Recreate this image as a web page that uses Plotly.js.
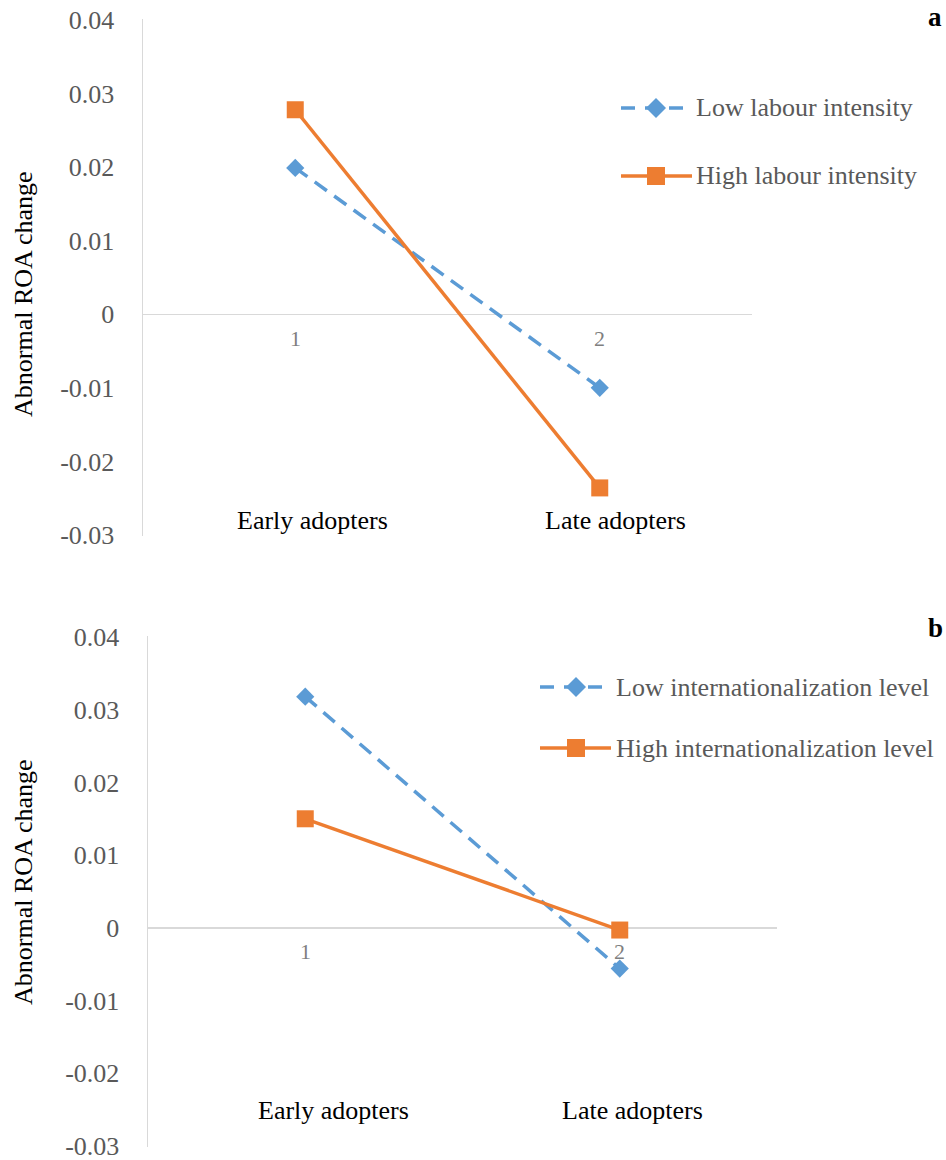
<!DOCTYPE html>
<html>
<head>
<meta charset="utf-8">
<script src="https://cdn.plot.ly/plotly-3.0.1.min.js"></script>
<style>
  html, body { margin: 0; padding: 0; background: #fff; }
  #chart { width: 946px; height: 1160px; }
</style>
</head>
<body>
<div id="chart"></div>
<script>
// ---------------- data ----------------
var categories = ['Early adopters', 'Late adopters'];
var categoryIndex = [1, 2];
var categoryTickLabels = ['1', '2'];

var yTickVals = [-0.03, -0.02, -0.01, 0, 0.01, 0.02, 0.03, 0.04];
var yTickText = ['-0.03', '-0.02', '-0.01', '0', '0.01', '0.02', '0.03', '0.04'];

var panelALabel = 'a';
var panelANames = ['Low labour intensity', 'High labour intensity'];
var panelALow = [0.0199, -0.0100];
var panelAHigh = [0.0278, -0.0236];

var panelBLabel = 'b';
var panelBNames = ['Low internationalization level', 'High internationalization level'];
var panelBLow = [0.0318, -0.0056];
var panelBHigh = [0.0150, -0.0003];

var yTitle = 'Abnormal ROA change';

// ---------------- styling ----------------
var W = 946, H = 1160;
var FONT = '"Liberation Serif", "Times New Roman", serif';
var BLUE = '#5B9BD5', ORANGE = '#ED7D31';
var GRAY = '#595959', AXIS = '#d9d9d9';
function px(x) { return x / W; }
function py(y) { return 1 - y / H; }

var blueLine = { color: BLUE, width: 3.5, dash: '15px,9px' };
var orangeLine = { color: ORANGE, width: 3.5 };
var diamond = { symbol: 'diamond', size: 14, color: BLUE };
var square = { symbol: 'square', size: 17, color: ORANGE };

var traces = [
  { x: categoryIndex, y: panelALow, name: panelANames[0], type: 'scatter', mode: 'lines+markers',
    xaxis: 'x', yaxis: 'y', line: blueLine, marker: diamond, showlegend: false },
  { x: categoryIndex, y: panelAHigh, name: panelANames[1], type: 'scatter', mode: 'lines+markers',
    xaxis: 'x', yaxis: 'y', line: orangeLine, marker: square, showlegend: false },
  { x: categoryIndex, y: panelBLow, name: panelBNames[0], type: 'scatter', mode: 'lines+markers',
    xaxis: 'x2', yaxis: 'y2', line: blueLine, marker: diamond, showlegend: false },
  { x: categoryIndex, y: panelBHigh, name: panelBNames[1], type: 'scatter', mode: 'lines+markers',
    xaxis: 'x2', yaxis: 'y2', line: orangeLine, marker: square, showlegend: false }
];

var PAD = 0.0002;
function yAxis(domain, anchor) {
  return {
    domain: domain, anchor: anchor, range: [-0.03 - PAD, 0.04 + PAD],
    tickmode: 'array', tickvals: yTickVals, ticktext: yTickText,
    ticks: '', ticklabelstandoff: 22, ticklabeloverflow: 'allow',
    tickfont: { family: FONT, size: 26, color: GRAY },
    showline: true, linecolor: AXIS, linewidth: 1.5,
    zeroline: true, zerolinecolor: AXIS, zerolinewidth: 1.5,
    showgrid: false, fixedrange: true
  };
}
function xAxis(domain, anchor) {
  return {
    domain: domain, anchor: anchor, range: [0.5, 2.5],
    showticklabels: false, showline: false, showgrid: false, zeroline: false, ticks: ''
  };
}
function yDomain(topPx, botPx) {
  var perUnit = (botPx - topPx) / 0.07;
  var ext = PAD * perUnit;
  return [py(botPx + ext), py(topPx - ext)];
}

var annotations = [];
var shapes = [];

function addPanel(xr, yr, names, catShift, catYShift, titleY, legend) {
  categoryIndex.forEach(function (c, i) {
    annotations.push({ xref: xr, yref: yr, x: c, y: 0, yshift: -24, text: categoryTickLabels[i],
      showarrow: false, xanchor: 'center', yanchor: 'middle',
      font: { family: FONT, size: 22, color: '#7f7f7f' } });
    annotations.push({ xref: xr, yref: yr, x: c, y: -0.03, xshift: catShift[i], yshift: catYShift,
      text: categories[i], showarrow: false, xanchor: 'center', yanchor: 'middle',
      font: { family: FONT, size: 26, color: '#000' } });
  });
  annotations.push({ xref: 'paper', yref: 'paper', x: px(23), y: py(titleY), text: yTitle,
    textangle: -90, showarrow: false, xanchor: 'center', yanchor: 'middle',
    font: { family: FONT, size: 26, color: '#000' } });
  var L = legend;
  shapes.push({ type: 'line', xref: 'paper', yref: 'paper', x0: px(L.x0), x1: px(L.x1),
    y0: py(L.rows[0]), y1: py(L.rows[0]), line: { color: BLUE, width: 3.5, dash: '14px,10px' } });
  shapes.push({ type: 'path', xref: 'paper', yref: 'paper', xsizemode: 'pixel', ysizemode: 'pixel',
    xanchor: px(L.xm), yanchor: py(L.rows[0]), path: 'M0,10 L10,0 L0,-10 L-10,0 Z',
    fillcolor: BLUE, line: { width: 0 } });
  shapes.push({ type: 'line', xref: 'paper', yref: 'paper', x0: px(L.x0), x1: px(L.x1),
    y0: py(L.rows[1]), y1: py(L.rows[1]), line: { color: ORANGE, width: 3.5 } });
  shapes.push({ type: 'rect', xref: 'paper', yref: 'paper', xsizemode: 'pixel', ysizemode: 'pixel',
    xanchor: px(L.xm), yanchor: py(L.rows[1]), x0: -9, x1: 9, y0: -9, y1: 9,
    fillcolor: ORANGE, line: { width: 0 } });
  names.forEach(function (n, i) {
    annotations.push({ xref: 'paper', yref: 'paper', x: px(L.tx), y: py(L.rows[i]), text: n,
      showarrow: false, xanchor: 'left', yanchor: 'middle',
      font: { family: FONT, size: 26, color: GRAY } });
  });
  annotations.push({ xref: 'paper', yref: 'paper', x: px(935), y: py(L.letterTop), text: '<b>' + L.letter + '</b>',
    showarrow: false, xanchor: 'center', yanchor: 'top',
    font: { family: FONT, size: 27, color: '#000' } });
}

addPanel('x', 'y', panelANames, [17, 16], 14, 294,
  { x0: 621, x1: 692, xm: 656, tx: 694, rows: [108, 176], letter: panelALabel, letterTop: 0 });
addPanel('x2', 'y2', panelBNames, [28, 13], 35, 882,
  { x0: 540, x1: 611, xm: 576, tx: 614, rows: [687, 748], letter: panelBLabel, letterTop: 611 });

var layout = {
  width: W, height: H,
  margin: { l: 0, r: 0, t: 0, b: 0 },
  paper_bgcolor: '#fff', plot_bgcolor: 'rgba(0,0,0,0)',
  showlegend: false,
  font: { family: FONT },
  xaxis: xAxis([px(143), px(752)], 'y'),
  yaxis: yAxis(yDomain(20, 535), 'x'),
  xaxis2: xAxis([px(148), px(777)], 'y2'),
  yaxis2: yAxis(yDomain(637, 1146), 'x2'),
  annotations: annotations,
  shapes: shapes
};

Plotly.newPlot('chart', traces, layout, { staticPlot: true, displayModeBar: false });
</script>
</body>
</html>
